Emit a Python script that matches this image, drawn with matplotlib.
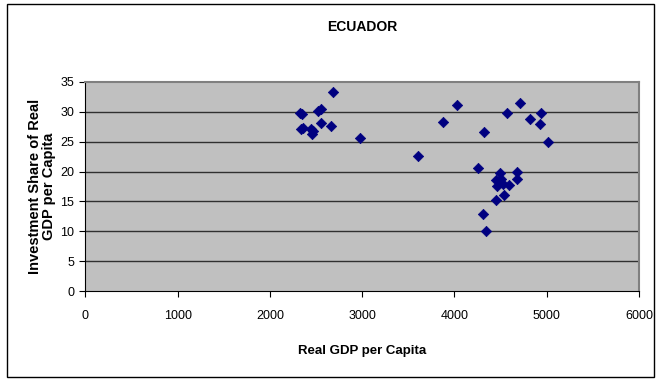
import matplotlib
matplotlib.use("Agg")
import matplotlib.pyplot as plt
from matplotlib.patches import Rectangle

plt.rcParams['font.family'] = ['Liberation Sans', 'DejaVu Sans']

title = "ECUADOR"
x_label = "Real GDP per Capita"
y_label = "Investment Share of Real\nGDP per Capita"

gdp = [2324, 2342, 2360, 2337, 2443, 2468, 2457, 2516, 2548, 2548, 2660, 2685, 2974,
       3606, 3870, 4032, 4260, 4321, 4313, 4339,
       4491, 4455, 4509, 4462, 4527, 4592, 4535, 4448,
       4570, 4679, 4679, 4707, 4823, 4924, 4935, 5014]
inv = [29.8, 29.6, 27.3, 27.1, 27.1, 26.8, 26.3, 30.1, 30.4, 28.2, 27.6, 33.3, 25.6,
       22.6, 28.3, 31.1, 20.6, 26.6, 12.9, 10.1,
       19.8, 18.6, 18.8, 17.6, 18.0, 17.7, 16.1, 15.2,
       29.8, 19.9, 18.8, 31.4, 28.8, 27.9, 29.8, 24.9]

x_ticks = [0, 1000, 2000, 3000, 4000, 5000, 6000]
y_ticks = [0, 5, 10, 15, 20, 25, 30, 35]

fig = plt.figure(figsize=(6.61, 3.81), dpi=100)
fig.patch.set_facecolor('white')
fig.patches.append(Rectangle((7/661, 4/381), 647/661, 373/381, transform=fig.transFigure,
                             fill=False, edgecolor='black', linewidth=1.0))

ax = fig.add_axes([85.5/661, 90/381, 553.5/661, 209/381])
ax.set_facecolor('#C0C0C0')
ax.set_xlim(0, 6000)
ax.set_ylim(0, 35)
ax.set_xticks(x_ticks)
ax.set_yticks(y_ticks)
ax.set_xticklabels([str(v) for v in x_ticks], fontsize=9)
ax.set_yticklabels([str(v) for v in y_ticks], fontsize=9)
for y in y_ticks[1:-1]:
    ax.axhline(y, color='#303030', linewidth=1.0, zorder=1)
ax.scatter(gdp, inv, marker='D', s=28, color='#000080', edgecolors='#000080', linewidths=0.5, zorder=3)

ax.spines['left'].set_color('black')
ax.spines['bottom'].set_color('black')
ax.spines['top'].set_color('#808080')
ax.spines['right'].set_color('#808080')
ax.spines['top'].set_linewidth(1.5)
ax.spines['right'].set_linewidth(1.5)
ax.tick_params(axis='x', direction='out', length=4, width=0.8, colors='black', pad=10)
ax.tick_params(axis='y', direction='out', length=4, width=0.8, colors='black', pad=4)

ax.set_xlabel(x_label, fontsize=9.5, fontweight='bold', labelpad=16)
ax.set_ylabel(y_label, fontsize=10.5, fontweight='bold', labelpad=3, linespacing=1.0)
fig.text(0.5 * (85.5 + 639) / 661, 1 - 27/381, title, ha='center', va='center', fontsize=10, fontweight='bold')

fig.savefig("out.png", dpi=100)
